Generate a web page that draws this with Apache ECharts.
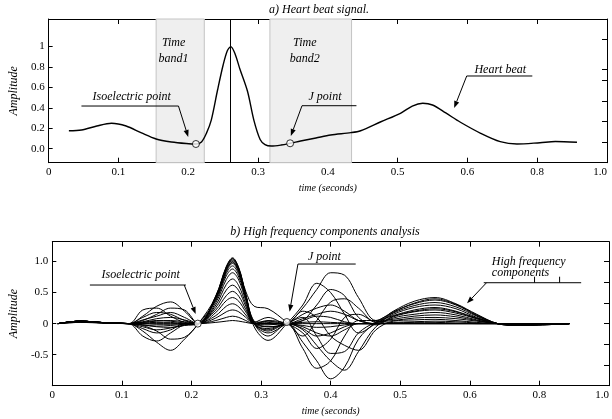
<!DOCTYPE html>
<html><head><meta charset="utf-8">
<script src="https://cdn.jsdelivr.net/npm/echarts@6/dist/echarts.min.js"></script>
<style>html,body{margin:0;padding:0;background:#fff}#c{width:612px;height:419px}</style>
</head><body><div id="c"></div>
<script>
// ---------- data ----------
const xTickLabels = ['0','0.1','0.2','0.3','0.4','0.5','0.6','0.8','1.0'];
const xLabelPos = [0,0.1,0.2,0.3,0.4,0.5,0.6,0.7,0.8];
const xTickPos = [0.1,0.2,0.3,0.4,0.5,0.6,0.7];
const yTopLabels = ['0.0','0.2','0.4','0.6','0.8','1'];
const yTopPos = [0,0.2,0.4,0.6,0.8,1];
const yTopRightTicks = [0.066,0.266,0.466,0.666,0.78,1.075];
const yBotLabels = ['-0.5','0','0.5','1.0'];
const yBotPos = [-0.5,0,0.5,1.0];
const yBotRightTicks = [-0.667,-0.333,0,0.333,0.667,1.0];

const heartT = [0.029,0.047,0.069,0.09,0.111,0.133,0.154,0.176,0.197,0.211,0.219,0.226,0.233,0.242,0.25,0.256,0.261,0.267,0.274,0.285,0.294,0.303,0.31,0.319,0.333,0.346,0.361,0.383,0.404,0.433,0.447,0.476,0.504,0.521,0.536,0.55,0.569,0.59,0.619,0.647,0.671,0.704,0.726,0.757];
const heartV = [0.176,0.183,0.222,0.249,0.222,0.154,0.095,0.066,0.051,0.046,0.066,0.15,0.28,0.575,0.82,0.96,1.0,0.93,0.78,0.56,0.28,0.09,0.04,0.026,0.036,0.053,0.075,0.105,0.134,0.157,0.176,0.264,0.347,0.418,0.445,0.428,0.35,0.259,0.151,0.069,0.046,0.059,0.07,0.063];
const bands = [[0.154,0.223],[0.317,0.434]];
const peakT = 0.261;
const topPoints = [[0.211,0.046],[0.346,0.053]];

const hfT = [0.008,0.04,0.075,0.11, 0.13,0.15,0.17,0.19, 0.21, 0.235,0.25,0.259,0.268,0.278, 0.29,0.31, 0.337, 0.36,0.38,0.40,0.42,0.44,0.465, 0.49,0.52,0.55,0.58,0.61,0.64,0.67,0.743];
const hf1  = [0,0.04,0.015,0, 0.03,0.08,0.1,0.06, 0, 0.45,0.92,1.06,0.9,0.52, 0.28,0.24, 0.02, -0.2,0.05,0.35,0.4,0.25,0.02, 0.2,0.36,0.42,0.32,0.15,0,-0.03,0];
const hf2  = [0,0.04,0.015,0, 0.12,0.28,0.35,0.2, 0, 0.44,0.9,1.04,0.88,0.47, 0.04,-0.05, 0, 0.25,0.55,0.82,0.78,0.42,0.05, 0.19,0.32,0.38,0.3,0.13,0,-0.03,0];
const hf3  = [0,0.04,0.015,0, -0.12,-0.3,-0.43,-0.25, 0, 0.43,0.89,1.02,0.87,0.46, 0.02,-0.12, 0, -0.3,-0.6,-0.89,-0.7,-0.25,0.02, 0.17,0.29,0.34,0.27,0.12,0,-0.02,0];
const hf4  = [0,0.04,0.015,0, 0.22,0.25,0.12,0.02, 0, 0.42,0.87,1.0,0.85,0.45, -0.05,-0.27, 0, 0.3,0.65,0.5,0.15,-0.15,0, 0.15,0.26,0.3,0.24,0.1,0,-0.02,0];
const hf5  = [0,0.04,0.015,0, -0.2,-0.28,-0.15,-0.02, 0, 0.41,0.84,0.97,0.82,0.44, 0,-0.2, 0, -0.4,-0.72,-0.6,-0.2,0.05,0.05, 0.13,0.22,0.26,0.2,0.09,0,-0.02,0];
const hf6  = [0,0.04,0.015,0, 0.05,0.15,0.25,0.22, 0, 0.39,0.81,0.93,0.79,0.42, 0.02,0.1, 0, 0.05,0.3,0.55,0.45,0.1,-0.02, 0.11,0.19,0.22,0.17,0.08,0,-0.01,0];
const hf7  = [0,0.04,0.015,0, -0.03,-0.12,-0.25,-0.22, 0, 0.37,0.77,0.88,0.75,0.4, 0,-0.1, 0, -0.1,-0.35,-0.6,-0.75,-0.45,-0.05, 0.09,0.15,0.18,0.14,0.06,0,-0.01,0];
const hf8  = [0,0.04,0.015,0, 0.1,0.18,0.15,0.05, 0, 0.34,0.71,0.82,0.7,0.37, 0,-0.15, 0, 0.1,-0.2,-0.48,-0.45,-0.15,0.02, 0.07,0.12,0.14,0.11,0.05,0,-0.01,0];
const hf9  = [0,0.04,0.015,0, -0.08,-0.15,-0.1,0, 0, 0.3,0.63,0.72,0.61,0.32, 0,0.05, 0, -0.15,-0.4,-0.25,0.1,0.15,0.03, 0.05,0.09,0.1,0.08,0.04,0,-0.01,0];
const hf10 = [0,0.04,0.015,0, 0.06,0.12,0.18,0.1, 0, 0.26,0.54,0.62,0.53,0.28, 0,0.04, 0, 0.2,0.1,-0.2,-0.35,-0.43,-0.1, 0.04,0.06,0.07,0.05,0.02,0,0,0];
const hf11 = [0,0.04,0.015,0, -0.05,-0.1,-0.07,-0.02, 0, 0.22,0.45,0.52,0.44,0.23, 0,-0.05, 0, 0.15,0.25,0.3,0.2,0.05,0, 0.02,0.03,0.04,0.03,0.01,0,0,0];
const hf12 = [0,0.03,0.01,0, 0.02,0.05,0.04,0.01, 0, 0.18,0.37,0.42,0.36,0.19, 0,-0.02, 0, -0.05,-0.15,-0.2,-0.1,0,0, 0.01,0.02,0.02,0.01,0,0,0,0];
const hf13 = [0,0.03,0.01,0, -0.02,-0.04,-0.03,-0.01, 0, 0.13,0.28,0.32,0.27,0.14, 0,0, 0, 0.05,0.12,0.1,0.03,0,0, 0,0,0,0,0,0,0,0];
const hf14 = [0,0.03,0.01,0, 0.01,0.02,0.02,0, 0, 0.09,0.19,0.22,0.19,0.1, 0,0, 0, -0.03,-0.06,-0.05,-0.02,0,0, 0,0,0,0,0,0,0,0];
const hf15 = [0,0.02,0.01,0, 0,-0.01,-0.01,0, 0, 0.05,0.1,0.12,0.1,0.05, 0,0, 0, 0.02,0.03,0.02,0.01,0,0, 0,0,0,0,0,0,0,0];
const hf16 = [0,0.02,0.01,0, 0,0,0,0, 0, 0.02,0.04,0.05,0.04,0.02, 0,0, 0, 0,0,0,0,0,0, 0,0,0,0,0,0,0,0];
const hf17 = [0,0.04,0.015,0, 0.02,0.04,0.05,0.03, 0, 0.44,0.91,1.05,0.89,0.47, 0.03,0.02, 0, 0.08,0.15,0.2,0.15,0.05,0, 0.18,0.33,0.4,0.31,0.14,0,-0.03,0];
const hf18 = [0,0.04,0.015,0, -0.02,-0.05,-0.06,-0.03, 0, 0.42,0.86,0.99,0.84,0.45, 0,-0.08, 0, -0.08,-0.2,-0.15,-0.05,0,0, 0.12,0.2,0.24,0.19,0.08,0,-0.02,0];
const hfCurves = [hf1,hf2,hf3,hf4,hf5,hf6,hf7,hf8,hf9,hf10,hf11,hf12,hf13,hf14,hf15,hf16,hf17,hf18];
const botPoints = [[0.209,0.0],[0.337,0.026]];

// ---------- styles ----------
const FONT = '"Liberation Serif", "DejaVu Serif", serif';
const BLACK = '#000';
const lbl = {fontFamily: FONT, fontSize: 11, color: BLACK};

function xAxes(grid) {
  return [
    {gridIndex: grid, type: 'value', min: 0, max: 0.8, position: 'bottom',
     axisLine: {onZero: false, lineStyle: {color: BLACK, width: 1}},
     axisTick: {inside: true, length: 5, customValues: xTickPos, lineStyle: {color: BLACK}},
     axisLabel: Object.assign({customValues: xLabelPos, margin: 4, alignMaxLabel: 'right',
       formatter: v => xTickLabels[Math.round(v * 10)]}, lbl),
     splitLine: {show: false},
     name: 'time (seconds)', nameLocation: 'middle', nameGap: 21,
     nameTextStyle: {fontFamily: FONT, fontStyle: 'italic', fontSize: 10, color: BLACK}},
    {gridIndex: grid, type: 'value', min: 0, max: 0.8, position: 'top',
     axisLine: {onZero: false, lineStyle: {color: BLACK, width: 1}},
     axisTick: {inside: true, length: 5, customValues: xTickPos, lineStyle: {color: BLACK}},
     axisLabel: {show: false}, splitLine: {show: false}}
  ];
}
function yAxes(grid, min, max, pos, labels, rightTicks) {
  return [
    {gridIndex: grid, type: 'value', min: min, max: max, position: 'left',
     axisLine: {show: true, onZero: false, lineStyle: {color: BLACK, width: 1}},
     axisTick: {show: true, inside: true, length: 4, customValues: pos, lineStyle: {color: BLACK}},
     axisLabel: Object.assign({customValues: pos, margin: 4,
       formatter: v => { let i = pos.findIndex(p => Math.abs(p - v) < 1e-6); return i >= 0 ? labels[i] : ''; }}, lbl),
     splitLine: {show: false},
     name: 'Amplitude', nameLocation: 'middle', nameGap: 27, nameRotate: 90,
     nameTextStyle: {fontFamily: FONT, fontStyle: 'italic', fontSize: 12, color: BLACK}},
    {gridIndex: grid, type: 'value', min: min, max: max, position: 'right',
     axisLine: {show: true, onZero: false, lineStyle: {color: BLACK, width: 1}},
     axisTick: {show: true, inside: true, length: 5, customValues: rightTicks, lineStyle: {color: BLACK}},
     axisLabel: {show: false}, splitLine: {show: false}}
  ];
}

const series = [];
series.push({
  type: 'line', xAxisIndex: 0, yAxisIndex: 0, smooth: 0.3, showSymbol: false, silent: true,
  data: heartT.map((t, i) => [t, heartV[i]]),
  lineStyle: {color: BLACK, width: 1.4}, z: 3,
  markArea: {silent: true, itemStyle: {color: '#efefef', borderColor: '#c4c4c4', borderWidth: 1},
    data: bands.map(b => [{xAxis: b[0]}, {xAxis: b[1]}])},
  markLine: {silent: true, symbol: 'none', label: {show: false},
    lineStyle: {color: BLACK, width: 1, type: 'solid'}, data: [{xAxis: peakT}]}
});
series.push({type: 'scatter', xAxisIndex: 0, yAxisIndex: 0, data: topPoints, symbol: 'circle', symbolSize: 7,
  itemStyle: {color: '#fff', borderColor: BLACK, borderWidth: 1}, z: 10, silent: true});
hfCurves.forEach(c => series.push({
  type: 'line', xAxisIndex: 2, yAxisIndex: 2, smooth: 0.35, showSymbol: false, silent: true,
  data: hfT.map((t, i) => [t, c[i]]), lineStyle: {color: BLACK, width: 1}, z: 3
}));
series.push({type: 'scatter', xAxisIndex: 2, yAxisIndex: 2, data: botPoints, symbol: 'circle', symbolSize: 7,
  itemStyle: {color: '#fff', borderColor: BLACK, borderWidth: 1}, z: 10, silent: true});

const chart = echarts.init(document.getElementById('c'), null, {renderer: 'canvas'});
chart.setOption({
  animation: false,
  backgroundColor: '#fff',
  grid: [
    {left: 47, right: 5, top: 19, bottom: 256.3, containLabel: false},
    {left: 52.3, right: -2.5, top: 241.7, bottom: 33.3, containLabel: false}
  ],
  xAxis: xAxes(0).concat(xAxes(1)),
  yAxis: yAxes(0, -0.137, 1.27, yTopPos, yTopLabels, yTopRightTicks)
    .concat(yAxes(1, -1.0, 1.32, yBotPos, yBotLabels, yBotRightTicks)),
  series: series
});

// ---------- annotations (data coordinates) ----------
const notes = [
  {g: 0, text: 'Time', at: [0.179, 1.035]},
  {g: 0, text: 'band1', at: [0.179, 0.878]},
  {g: 0, text: 'Time', at: [0.367, 1.035]},
  {g: 0, text: 'band2', at: [0.367, 0.878]},
  {g: 0, text: 'Isoelectric point', at: [0.119, 0.506]},
  {g: 0, text: 'J point', at: [0.396, 0.506]},
  {g: 0, text: 'Heart beat', at: [0.647, 0.771]},
  {g: 1, text: 'Isoelectric point', at: [0.127, 0.78]},
  {g: 1, text: 'J point', at: [0.391, 1.078]},
  {g: 1, text: 'High frequency', at: [0.6316, 0.997], align: 'left'},
  {g: 1, text: 'components', at: [0.6316, 0.82], align: 'left'}
];
const rules = [
  {g: 0, pts: [[0.047, 0.418], [0.186, 0.418]]},
  {g: 0, pts: [[0.363, 0.421], [0.441, 0.421]]},
  {g: 0, pts: [[0.599, 0.712], [0.693, 0.712]]},
  {g: 1, pts: [[0.054, 0.622], [0.192, 0.622]]},
  {g: 1, pts: [[0.353, 0.96], [0.436, 0.96]]},
  {g: 1, pts: [[0.62, 0.659], [0.76, 0.659]]},
  {g: 1, pts: [[0.693, 0.659], [0.693, 0.756]]},
  {g: 1, pts: [[0.729, 0.659], [0.729, 0.756]]}
];
const arrows = [
  {g: 0, from: [0.186, 0.418], to: [0.2, 0.115]},
  {g: 0, from: [0.363, 0.421], to: [0.347, 0.124]},
  {g: 0, from: [0.599, 0.712], to: [0.581, 0.399]},
  {g: 1, from: [0.1896, 0.622], to: [0.206, 0.155]},
  {g: 1, from: [0.353, 0.96], to: [0.341, 0.192]},
  {g: 1, from: [0.624, 0.659], to: [0.596, 0.327]}
];
function px(g, p) { return chart.convertToPixel({gridIndex: g}, p); }
const gfx = [];
notes.forEach(n => {
  const p = px(n.g, n.at);
  gfx.push({type: 'text', x: p[0], y: p[1], z: 20, silent: true,
    style: {text: n.text, fill: BLACK, font: 'italic 12px ' + FONT,
      textAlign: n.align || 'center', textVerticalAlign: 'middle'}});
});
rules.forEach(r => {
  gfx.push({type: 'polyline', z: 20, silent: true, shape: {points: r.pts.map(p => px(r.g, p))},
    style: {stroke: BLACK, lineWidth: 1, fill: null}});
});
arrows.forEach(a => {
  const f = px(a.g, a.from), t = px(a.g, a.to);
  const dx = t[0] - f[0], dy = t[1] - f[1], L = Math.hypot(dx, dy);
  const ux = dx / L, uy = dy / L, hl = 7, hw = 2.6;
  const bx = t[0] - ux * hl, by = t[1] - uy * hl;
  gfx.push({type: 'polyline', z: 20, silent: true, shape: {points: [f, [bx, by]]},
    style: {stroke: BLACK, lineWidth: 1, fill: null}});
  gfx.push({type: 'polygon', z: 20, silent: true,
    shape: {points: [t, [bx - uy * hw, by + ux * hw], [bx + uy * hw, by - ux * hw]]},
    style: {fill: BLACK}});
});
gfx.push({type: 'text', x: 319, y: 10, z: 20, silent: true,
  style: {text: 'a) Heart beat signal.', fill: BLACK, font: 'italic 12px ' + FONT, textAlign: 'center', textVerticalAlign: 'middle'}});
gfx.push({type: 'text', x: 325, y: 231.5, z: 20, silent: true,
  style: {text: 'b) High frequency components analysis', fill: BLACK, font: 'italic 12px ' + FONT, textAlign: 'center', textVerticalAlign: 'middle'}});
chart.setOption({graphic: gfx});
</script>
</body></html>
